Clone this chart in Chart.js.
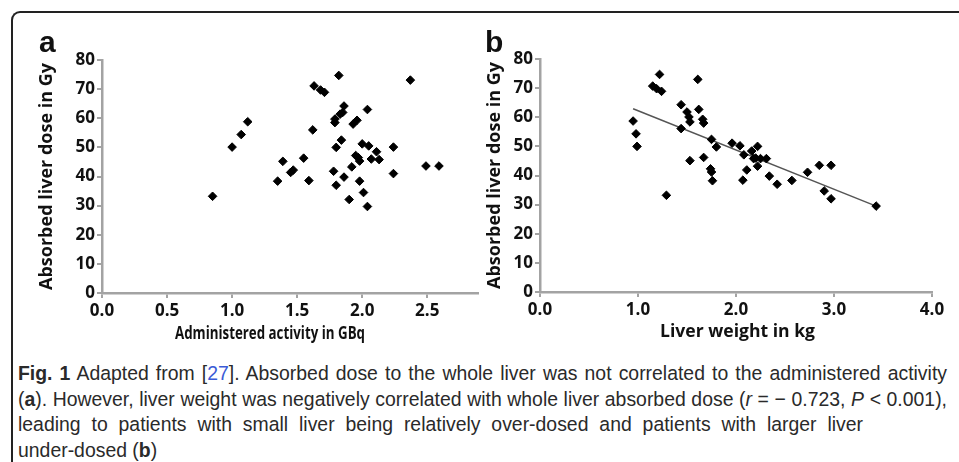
<!DOCTYPE html>
<html>
<head>
<meta charset="utf-8">
<script src="https://cdn.jsdelivr.net/npm/chart.js@4.4.1/dist/chart.umd.min.js"></script>
<style>
  body { margin: 0; width: 959px; height: 462px; overflow: hidden; background: #fff; position: relative; }
  .frame { position: absolute; left: 11px; top: 11px; width: 1000px; height: 500px;
           border-top: 2px solid #222; border-left: 2px solid #222; border-top-left-radius: 9px; }
  .wrap { position: absolute; top: 0; }
  .letter { position: absolute; font: bold 30px "Liberation Sans", Arial, sans-serif; line-height: 30px; color: #111; }
  .xtitle { position: absolute; font: bold 18px "Open Sans", sans-serif; line-height: 20px; color: #111;
            white-space: nowrap; width: max-content; transform-origin: 0 50%; }
  .cap { position: absolute; left: 18px; font-family: "Liberation Sans", Arial, sans-serif;
         font-size: 20.5px; line-height: 25.5px; color: #2a2a2a; }
  .cap div { white-space: nowrap; width: max-content; transform-origin: 0 50%; }
  .ref { color: #3b5bd6; }
</style>
</head>
<body>
<div class="frame"></div>

<div class="wrap" style="left:0;width:490px;height:345px"><canvas id="chartA" width="490" height="345"></canvas></div>
<div class="wrap" style="left:480px;width:479px;height:345px"><canvas id="chartB" width="479" height="345"></canvas></div>

<div class="letter" style="left:39px;top:27px">a</div>
<div class="letter" style="left:485px;top:27px">b</div>
<div class="xtitle" data-c="270" data-w="190" style="top:322px">Administered activity in GBq</div>
<div class="xtitle" data-c="737" data-w="155" style="top:320px">Liver weight in kg</div>

<div class="cap" style="top:360px">
  <div data-w="929" data-j="1"><b>Fig. 1</b> Adapted from [<span class="ref">27</span>]. Absorbed dose to the whole liver was not correlated to the administered activity</div>
  <div data-w="929" data-j="1">(<b>a</b>). However, liver weight was negatively correlated with whole liver absorbed dose (<i>r</i> = − 0.723, <i>P</i> &lt; 0.001),</div>
  <div data-w="845" data-j="1">leading to patients with small liver being relatively over-dosed and patients with larger liver</div>
  <div>under-dosed (<b>b</b>)</div>
</div>

<script>
// panel a: administered activity (GBq) vs absorbed liver dose (Gy)
const activity = [0.85, 1.00, 1.07, 1.12, 1.35, 1.39, 1.45, 1.47, 1.55, 1.59, 1.62, 1.63,
                  1.68, 1.71, 1.82, 1.79, 1.79, 1.83, 1.85, 1.86, 1.84, 1.80, 1.78, 1.80,
                  1.86, 1.90, 1.92, 1.93, 1.96, 1.95, 1.97, 1.98, 1.98, 2.00, 2.01, 2.04,
                  2.05, 2.04, 2.07, 2.11, 2.13, 2.24, 2.24, 2.37, 2.49, 2.59];
const doseA = [33.2, 50.1, 54.4, 58.8, 38.4, 45.2, 41.4, 42.2, 46.3, 38.6, 56.0, 71.1,
               69.7, 68.9, 74.7, 59.7, 58.5, 61.4, 62.0, 64.2, 52.5, 50.0, 41.8, 37.0,
               39.8, 32.1, 43.3, 58.0, 59.3, 47.2, 46.5, 45.3, 38.4, 51.2, 34.5, 63.0,
               50.5, 29.7, 46.0, 48.5, 45.8, 50.1, 41.0, 73.1, 43.6, 43.6];

// panel b: liver weight (kg) vs absorbed liver dose (Gy)
const weight = [0.95, 0.98, 0.99, 1.22, 1.15, 1.19, 1.24, 1.29, 1.44, 1.44, 1.50, 1.52,
                1.53, 1.53, 1.61, 1.62, 1.66, 1.67, 1.67, 1.75, 1.74, 1.75, 1.76, 1.80,
                1.96, 2.04, 2.08, 2.07, 2.11, 2.16, 2.22, 2.18, 2.25, 2.31, 2.22, 2.34,
                2.42, 2.57, 2.73, 2.85, 2.97, 2.90, 2.97, 3.43, 2.20];
const doseB = [58.7, 54.3, 50.0, 74.7, 70.7, 69.8, 68.9, 33.2, 64.3, 56.1, 61.8, 60.1,
               58.4, 45.1, 73.0, 62.7, 59.3, 58.0, 46.2, 52.4, 42.3, 41.2, 38.2, 49.8,
               51.1, 50.2, 47.1, 38.4, 41.9, 48.4, 50.0, 45.8, 45.8, 45.8, 43.2, 39.8,
               37.0, 38.3, 41.1, 43.5, 43.5, 34.7, 32.0, 29.5, 46.0];

// regression line ends (panel b)
const fitX = [0.95, 3.43];
const fitY = [62.9, 29.5];

const yTitle = 'Absorbed liver dose in Gy';
const yTicks = { min: 0, max: 80, step: 10 };

const axisGray = '#a3a3a3';
const tickFont = { family: 'Open Sans', size: 17, weight: 'bold' };

const toPoints = (xs, ys) => xs.map((x, i) => ({ x: x, y: ys[i] }));

function diamonds(xs, ys) {
    return {
        type: 'scatter',
        data: toPoints(xs, ys),
        pointStyle: 'rectRot',
        radius: 4.3,
        hoverRadius: 4.3,
        backgroundColor: '#000',
        borderColor: '#000',
        borderWidth: 1
    };
}

function yScale(width) {
    return {
        type: 'linear',
        min: yTicks.min,
        max: yTicks.max,
        ticks: { stepSize: yTicks.step, color: '#111', font: tickFont, padding: 2 },
        grid: { drawOnChartArea: false, tickLength: 5, color: axisGray, lineWidth: 2 },
        border: { color: axisGray, width: 2.5 },
        title: { display: true, text: yTitle, color: '#111',
                 font: { family: 'Open Sans', size: 18, weight: 'bold' }, padding: { top: 0, bottom: 0 } },
        afterFit: s => { s.width = width; }
    };
}

function xScale(max, step) {
    return {
        type: 'linear',
        min: 0,
        max: max,
        ticks: { stepSize: step, includeBounds: false, color: '#111', font: tickFont, padding: 3,
                 maxRotation: 0, callback: v => v.toFixed(1) },
        grid: { drawOnChartArea: false, tickLength: 5, color: axisGray, lineWidth: 2 },
        border: { color: axisGray, width: 2.5 },
        afterFit: s => { s.height = 49; }
    };
}

const common = {
    responsive: false,
    animation: false,
    events: [],
    plugins: { legend: { display: false }, tooltip: { enabled: false } }
};

new Chart(document.getElementById('chartA'), {
    type: 'scatter',
    data: { datasets: [diamonds(activity, doseA)] },
    options: {
        ...common,
        layout: { padding: { left: 36, top: 60, right: 12, bottom: 3 } },
        scales: { x: xScale(2.89, 0.5), y: yScale(66) }
    }
});

new Chart(document.getElementById('chartB'), {
    type: 'scatter',
    data: {
        datasets: [
            diamonds(weight, doseB),
            {
                type: 'line',
                data: toPoints(fitX, fitY),
                borderColor: '#555',
                borderWidth: 1.5,
                pointRadius: 0,
                fill: false
            }
        ]
    },
    options: {
        ...common,
        layout: { padding: { left: 4, top: 59, right: 27, bottom: 4 } },
        scales: { x: xScale(4, 1), y: yScale(56) }
    }
});

// x titles: squeeze to the width they have in the figure
document.querySelectorAll('.xtitle').forEach(el => {
    const w = el.getBoundingClientRect().width;
    const target = +el.dataset.w;
    el.style.left = (+el.dataset.c - target / 2) + 'px';
    el.style.transform = 'scaleX(' + (target / w) + ')';
});

// caption: one squeeze for all lines, small enough for the two full lines
const capLines = Array.from(document.querySelectorAll('.cap > div'));
const squeeze = Math.min(...capLines.slice(0, 2).map(el => (+el.dataset.w - 4) / el.getBoundingClientRect().width));
capLines.forEach(el => {
    if (el.dataset.j) {
        el.style.width = (+el.dataset.w / squeeze) + 'px';
        el.style.textAlign = 'justify';
        el.style.textAlignLast = 'justify';
    }
    el.style.transform = 'scaleX(' + squeeze + ')';
});
</script>
</body>
</html>
